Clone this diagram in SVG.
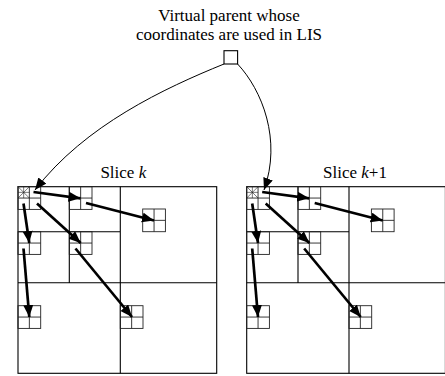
<svg xmlns="http://www.w3.org/2000/svg" xmlns:xlink="http://www.w3.org/1999/xlink" width="445" height="376" viewBox="0 0 445 376">
<style>
.bg{fill:#fff}
.frame{fill:none;stroke:#000;stroke-width:1.1}
.blk{fill:none;stroke:#222;stroke-width:0.9}
.star{fill:none;stroke:#222;stroke-width:0.6}
.lbl{font-family:"Liberation Serif","Times New Roman",serif;fill:#000;text-anchor:middle}
.thick{fill:none;stroke:#000;stroke-width:2.7;marker-end:url(#headB)}
.thin{fill:none;stroke:#000;stroke-width:1;marker-end:url(#headT)}
</style>
<defs>
<marker id="headB" markerUnits="userSpaceOnUse" markerWidth="13" markerHeight="11" refX="12" refY="5" orient="auto">
<path d="M0,0 L12,5 L0,10 z" fill="#000"/>
</marker>
<marker id="headT" markerUnits="userSpaceOnUse" markerWidth="13" markerHeight="11" refX="12" refY="5" orient="auto">
<path d="M0,0 L12,5 L0,10 z" fill="#000"/>
</marker>
<g id="blk">
<rect class="blk" x="0" y="0" width="22.7" height="22.7"/>
<path class="blk" d="M11.35,0 V22.7 M0,11.35 H22.7"/>
</g>
<g id="starcell">
<path class="star" d="M0,0 L11.35,11.35 M11.35,0 L0,11.35 M5.67,0 V11.35 M0,5.67 H11.35"/>
</g>
</defs>
<rect class="bg" x="0" y="0" width="445" height="376"/>

<g id="virtual-parent">
<text class="lbl" x="229" y="21" font-size="17">Virtual parent whose</text>
<text class="lbl" x="229" y="40.3" font-size="17">coordinates are used in LIS</text>
<rect class="frame" x="224" y="50.7" width="13.6" height="13.3"/>
</g>

<g id="slice-k">
<text class="lbl" x="123.3" y="177.5" font-size="17">Slice <tspan font-style="italic">k</tspan></text>
<rect class="frame" x="18" y="186.7" width="198.7" height="186.6"/>
<path class="frame" d="M120.3,186.7 V373.3 M18,282.7 H216.7 M69.3,186.7 V282.7 M18,231.7 H120.3"/>
<g id="k-b1"><use xlink:href="#blk" x="18" y="186.7"/><use xlink:href="#starcell" x="18" y="186.7"/></g>
<g id="k-b2"><use xlink:href="#blk" x="69.3" y="186.7"/></g>
<g id="k-b3"><use xlink:href="#blk" x="142.7" y="209"/></g>
<g id="k-b4"><use xlink:href="#blk" x="18" y="231.7"/></g>
<g id="k-b5"><use xlink:href="#blk" x="69.3" y="231.7"/></g>
<g id="k-b6"><use xlink:href="#blk" x="18" y="305.7"/></g>
<g id="k-b7"><use xlink:href="#blk" x="120.3" y="305.7"/></g>
</g>

<g id="slice-k1">
<text class="lbl" x="355" y="177.5" font-size="17">Slice <tspan font-style="italic">k</tspan>+1</text>
<rect class="frame" x="246.7" y="186.7" width="198.7" height="186.6"/>
<path class="frame" d="M349,186.7 V373.3 M246.7,282.7 H445.4 M298,186.7 V282.7 M246.7,231.7 H349"/>
<g id="k1-b1"><use xlink:href="#blk" x="246.7" y="186.7"/><use xlink:href="#starcell" x="246.7" y="186.7"/></g>
<g id="k1-b2"><use xlink:href="#blk" x="298" y="186.7"/></g>
<g id="k1-b3"><use xlink:href="#blk" x="371.4" y="209"/></g>
<g id="k1-b4"><use xlink:href="#blk" x="246.7" y="231.7"/></g>
<g id="k1-b5"><use xlink:href="#blk" x="298" y="231.7"/></g>
<g id="k1-b6"><use xlink:href="#blk" x="246.7" y="305.7"/></g>
<g id="k1-b7"><use xlink:href="#blk" x="349" y="305.7"/></g>
</g>

<g id="connectors">
<path class="thin" d="M224,64 C165,88 85,125 35,190"/>
<path class="thin" d="M237.6,64 C262,90 282,140 264,190"/>
<g id="arrows-k">
<path class="thick" d="M33.5,192 L80.5,198.3"/>
<path class="thick" d="M86,203 L154,220.5"/>
<path class="thick" d="M23.5,203.5 L29.3,243"/>
<path class="thick" d="M37,203.5 L80.7,243"/>
<path class="thick" d="M23.5,248.5 L29.3,317"/>
<path class="thick" d="M75.5,248.5 L132,317"/>
</g>
<g id="arrows-k1">
<path class="thick" d="M262.2,192 L309.2,198.3"/>
<path class="thick" d="M314.7,203 L382.7,220.5"/>
<path class="thick" d="M252.2,203.5 L258,243"/>
<path class="thick" d="M265.7,203.5 L309.4,243"/>
<path class="thick" d="M252.2,248.5 L258,317"/>
<path class="thick" d="M304.2,248.5 L360.7,317"/>
</g>
</g>
</svg>
